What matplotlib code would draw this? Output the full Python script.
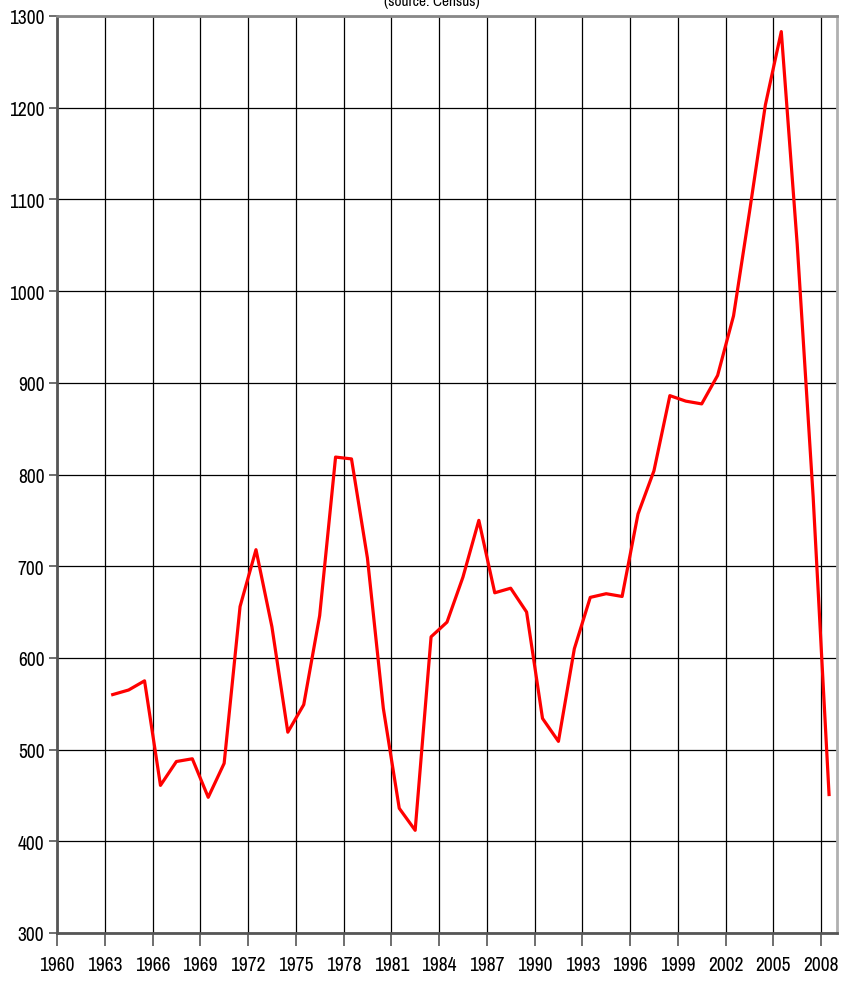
import matplotlib
matplotlib.use("Agg")
import matplotlib.pyplot as plt
from matplotlib import font_manager
from matplotlib.ticker import MultipleLocator

# New one-family houses sold, thousands (source: Census)
years = [1963, 1964, 1965, 1966, 1967, 1968, 1969, 1970, 1971, 1972,
         1973, 1974, 1975, 1976, 1977, 1978, 1979, 1980, 1981, 1982,
         1983, 1984, 1985, 1986, 1987, 1988, 1989, 1990, 1991, 1992,
         1993, 1994, 1995, 1996, 1997, 1998, 1999, 2000, 2001, 2002,
         2003, 2004, 2005, 2006, 2007, 2008]
sales = [560, 565, 575, 461, 487, 490, 448, 485, 656, 718,
         634, 519, 549, 646, 819, 817, 709, 545, 436, 412,
         623, 639, 688, 750, 671, 676, 650, 534, 509, 610,
         666, 670, 667, 757, 804, 886, 880, 877, 908, 973,
         1086, 1203, 1283, 1051, 776, 451]
year_ticks = [1960, 1963, 1966, 1969, 1972, 1975, 1978, 1981, 1984, 1987,
              1990, 1993, 1996, 1999, 2002, 2005, 2008]
title = "(source: Census)"

# look for a narrow font like the Arial Narrow of the original,
# else fall back on a condensed one
fonts = font_manager.fontManager.ttflist
narrow = [f for f in fonts if "Narrow" in f.name]
condensed = [f for f in fonts if f.stretch in ("condensed", "semi-condensed")]
size = 12
if narrow:
  plt.rcParams['font.family'] = [narrow[0].name, 'DejaVu Sans']
  size = 14
elif condensed:
  plt.rcParams['font.family'] = [condensed[0].name, 'DejaVu Sans']
  plt.rcParams['font.stretch'] = condensed[0].stretch
  size = 12
else:
  plt.rcParams['font.family'] = ['Liberation Sans', 'DejaVu Sans']
  size = 12

W, H = 863, 987
fig = plt.figure(figsize=(W/100, H/100), dpi=100)
ax = fig.add_axes([57/W, (H-934)/H, (837-57)/W, (934-17)/H])

# points sit mid-year between the year ticks
ax.plot([y + 0.5 for y in years], sales, color="#ff0000", linewidth=2.3, zorder=3)

ax.set_xlim(1960, 2009)
ax.set_ylim(300, 1300)
ax.set_xticks(year_ticks)
ax.yaxis.set_major_locator(MultipleLocator(100))
ax.grid(True, color="black", linewidth=0.9)
ax.set_axisbelow(True)

ax.tick_params(axis="x", direction="out", length=9, width=1.2, color="#555555",
               labelsize=size, pad=7)
ax.tick_params(axis="y", direction="out", length=6, width=1.2, color="#555555",
               labelsize=size, pad=3)

for side in ["left", "bottom"]:
  ax.spines[side].set_color("#555555")
  ax.spines[side].set_linewidth(2)
ax.spines["top"].set_color("#888888")
ax.spines["top"].set_linewidth(2)
ax.spines["right"].set_color("#b0b0b0")
ax.spines["right"].set_linewidth(2)

fig.text(0.5, 1 - 6/H, title, ha="center", va="baseline",
         fontsize=11, fontweight="bold")

fig.savefig("out.png", dpi=100)
